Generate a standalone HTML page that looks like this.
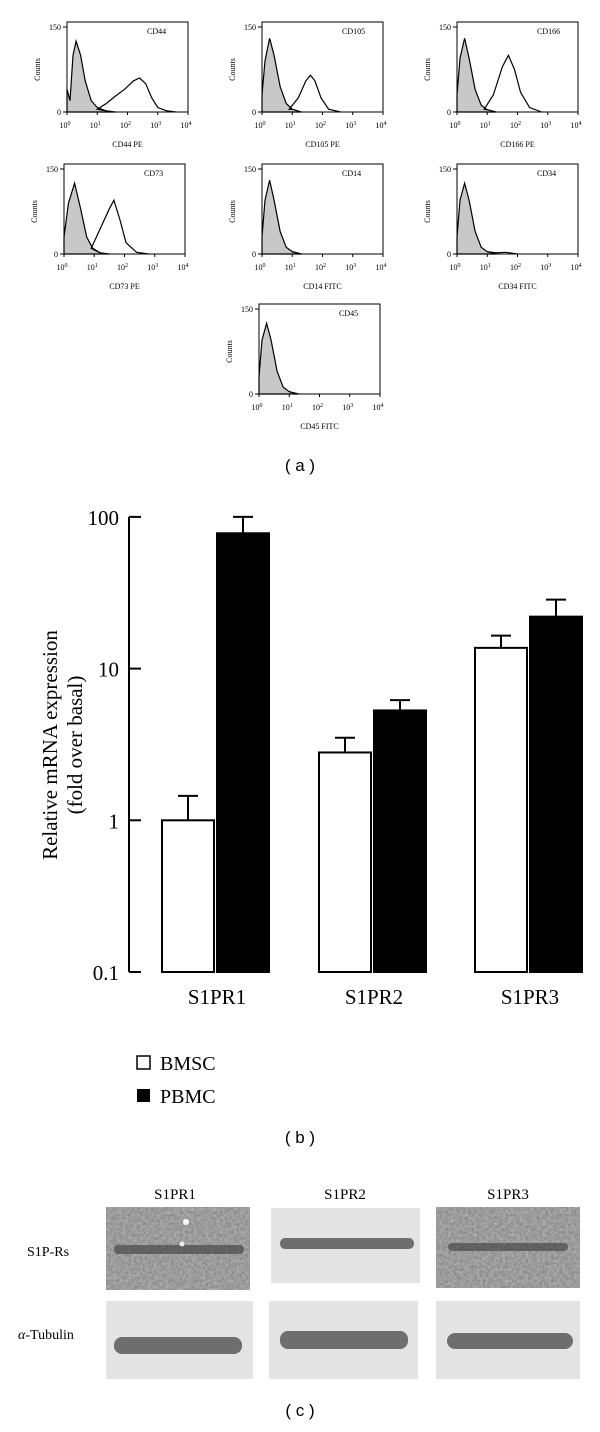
<!DOCTYPE html>
<html><head><meta charset="utf-8"><style>
html,body{margin:0;padding:0;background:#fff;}
svg{display:block;font-family:"Liberation Serif",serif;}
</style></head><body>
<svg width="600" height="1432" viewBox="0 0 600 1432">
<g id="hist"></g>
<text x="300" y="471" font-size="17" text-anchor="middle" font-family="Liberation Sans,sans-serif">( a )</text>
<g id="bars"></g>
<text x="300" y="1143" font-size="17" text-anchor="middle" font-family="Liberation Sans,sans-serif">( b )</text>
<defs>
<filter id="noise" x="0" y="0" width="100%" height="100%">
<feTurbulence type="fractalNoise" baseFrequency="0.35" numOctaves="2" seed="3"/>
<feColorMatrix type="matrix" values="0 0 0 0 0.45  0 0 0 0 0.45  0 0 0 0 0.45  0 0 0 1.6 -0.4"/>
</filter>
</defs>
<g id="blot">
<text x="175" y="1199" font-size="15" text-anchor="middle">S1PR1</text>
<text x="345" y="1199" font-size="15" text-anchor="middle">S1PR2</text>
<text x="508" y="1199" font-size="15" text-anchor="middle">S1PR3</text>
<text x="27" y="1256" font-size="14">S1P-Rs</text>
<text x="18" y="1339" font-size="14"><tspan font-style="italic">α</tspan>-Tubulin</text>
<g>
<rect x="106" y="1207" width="144" height="83" fill="#8c8c8c"/>
<rect x="106" y="1207" width="144" height="83" filter="url(#noise)"/>
<rect x="114" y="1245" width="130" height="9" fill="#3a3a3a" rx="4" opacity="0.6"/>
<circle cx="186" cy="1222" r="3" fill="#fff"/><circle cx="182" cy="1244" r="2.5" fill="#eee"/>
</g>
<g>
<rect x="271" y="1208" width="149" height="75" fill="#e4e4e4"/>
<rect x="280" y="1238" width="134" height="11" rx="5" fill="#6e6e6e"/>
</g>
<g>
<rect x="436" y="1207" width="144" height="81" fill="#8c8c8c"/>
<rect x="436" y="1207" width="144" height="81" filter="url(#noise)"/>
<rect x="448" y="1243" width="120" height="8" fill="#3a3a3a" rx="4" opacity="0.6"/>
</g>
<g>
<rect x="106" y="1301" width="147" height="78" fill="#e4e4e4"/>
<rect x="114" y="1337" width="128" height="17" rx="8" fill="#6e6e6e"/>
</g>
<g>
<rect x="269" y="1301" width="149" height="78" fill="#e4e4e4"/>
<rect x="280" y="1331" width="128" height="18" rx="8" fill="#6e6e6e"/>
</g>
<g>
<rect x="436" y="1301" width="144" height="78" fill="#e4e4e4"/>
<rect x="447" y="1333" width="126" height="16" rx="8" fill="#6e6e6e"/>
</g>
</g>
<text x="300" y="1416" font-size="17" text-anchor="middle" font-family="Liberation Sans,sans-serif">( c )</text>
</svg>
<script>
var NS="http://www.w3.org/2000/svg";
function mk(p,t,a){var e=document.createElementNS(NS,t);for(var k in a)e.setAttribute(k,a[k]);p.appendChild(e);return e;}
// ---- histogram data: [log10 intensity, counts]
var histNames=["CD44","CD105","CD166","CD73","CD14","CD34","CD45"];
var histXLabels=["CD44 PE","CD105 PE","CD166 PE","CD73 PE","CD14 FITC","CD34 FITC","CD45 FITC"];
var isoCurves=[
 [[0,40],[0.1,20],[0.2,100],[0.3,125],[0.45,100],[0.6,55],[0.8,20],[1,8],[1.3,2],[1.6,0]],
 [[0,30],[0.1,90],[0.25,130],[0.4,100],[0.6,45],[0.8,15],[1,5],[1.3,0]],
 [[0,30],[0.1,95],[0.25,130],[0.4,95],[0.6,40],[0.8,12],[1,4],[1.3,0]],
 [[0,30],[0.15,90],[0.35,125],[0.55,80],[0.75,30],[0.95,10],[1.2,2],[1.5,0]],
 [[0,30],[0.1,95],[0.25,130],[0.4,95],[0.6,40],[0.8,12],[1,4],[1.3,0]],
 [[0,30],[0.1,95],[0.25,125],[0.4,95],[0.6,40],[0.8,12],[1,4],[1.3,0]],
 [[0,30],[0.1,95],[0.25,125],[0.4,95],[0.6,40],[0.8,12],[1,4],[1.3,0]]];
var stainCurves=[
 [[1,5],[1.3,15],[1.6,28],[1.9,40],[2.2,55],[2.4,60],[2.6,50],[2.8,25],[3,8],[3.3,2],[3.6,0]],
 [[0.9,5],[1.2,25],[1.45,55],[1.6,65],[1.75,55],[1.95,25],[2.2,5],[2.6,0]],
 [[0.9,5],[1.2,30],[1.5,80],[1.7,100],[1.9,75],[2.1,35],[2.4,8],[2.8,0]],
 [[0.9,10],[1.2,45],[1.5,80],[1.65,95],[1.85,60],[2.05,20],[2.4,3],[2.8,0]],
 [[1.3,0]],[[1.3,2],[1.6,3],[2,0]],[[1.3,0]]];
var panelX=[67,262,457,64,262,457,259];
var panelY=[27,27,27,169,169,169,309];
var xtickExp=["0","1","2","3","4"];
var hg=document.getElementById("hist");
for(var i=0;i<7;i++){
 var g=mk(hg,"g",{});
 
 
 var x0=panelX[i],y0=panelY[i],w=121,h=85;
 var sx=function(v){return x0+v/4*w;}, sy=function(c){return y0+h-c/150*h;};
 var iso=isoCurves[i],d="M"+sx(0)+","+sy(0);
 iso.forEach(function(p){d+=" L"+sx(p[0]).toFixed(1)+","+sy(p[1]).toFixed(1);});
 var f=mk(g,"path",{d:d+" Z",fill:"#c8c8c8",stroke:"#000","stroke-width":"1.2"});
 
 
 var st=stainCurves[i],d2="M"+sx(iso[iso.length-2][0])+","+sy(iso[iso.length-2][1]);
 st.forEach(function(p){d2+=" L"+sx(p[0]).toFixed(1)+","+sy(p[1]).toFixed(1);});
 var s=mk(g,"path",{d:d2,fill:"none",stroke:"#000","stroke-width":"1.2"});
 
 
 mk(g,"rect",{x:x0,y:y0-5,width:w,height:h+5,fill:"none",stroke:"#000","stroke-width":"1"});
 mk(g,"line",{x1:x0-4,x2:x0,y1:y0,y2:y0,stroke:"#000"});
 mk(g,"line",{x1:x0-4,x2:x0,y1:y0+h,y2:y0+h,stroke:"#000"});
 var t=mk(g,"text",{x:x0-6,y:y0+3,"font-size":"8","text-anchor":"end"});t.textContent="150";
 t=mk(g,"text",{x:x0-6,y:y0+h+3,"font-size":"8","text-anchor":"end"});t.textContent="0";
 t=mk(g,"text",{x:x0-27,y:y0+h/2,"font-size":"8","text-anchor":"middle",transform:"rotate(-90 "+(x0-27)+" "+(y0+h/2)+")"});t.textContent="Counts";
 
 
 xtickExp.forEach(function(e,k){
  var tx=sx(k);
  mk(g,"line",{x1:tx,x2:tx,y1:y0+h,y2:y0+h+3,stroke:"#000"});
  var tt=mk(g,"text",{x:tx-2,y:y0+h+16,"font-size":"8","text-anchor":"middle"});
  tt.textContent="10";var sp=mk(tt,"tspan",{dy:"-3","font-size":"6"});sp.textContent=e;
 });
 t=mk(g,"text",{x:x0+w/2,y:y0+h+35,"font-size":"8","text-anchor":"middle"});t.textContent=histXLabels[i];
 
 
 t=mk(g,"text",{x:x0+80,y:y0+7,"font-size":"8"});t.textContent=histNames[i];
 
 
}
// ---- bar chart
var categories=["S1PR1","S1PR2","S1PR3"];
var bmscValues=[1,2.8,13.7];
var bmscErrors=[0.45,0.7,2.8];
var pbmcValues=[78,5.3,22];
var pbmcErrors=[22,0.9,6.5];
var yTickValues=[100,10,1,0.1];
var yTickLabels=["100","10","1","0.1"];
var bg=document.getElementById("bars");
var axX=129, yBot=972, dec=151.7;
function Y(v){return yBot-(Math.log10(v)+1)*dec;}
var groupX=[162,319,475];
function CX(i,s){return groupX[i]+s*55;}
var ax=mk(bg,"line",{x1:axX,x2:axX,y1:Y(100),y2:yBot,stroke:"#000","stroke-width":"2"});


yTickValues.forEach(function(v,k){
 mk(bg,"line",{x1:axX,x2:axX+12,y1:Y(v),y2:Y(v),stroke:"#000","stroke-width":"2"});
 var t=mk(bg,"text",{x:axX-10,y:Y(v)+8,"font-size":"21","text-anchor":"end"});
 t.textContent=yTickLabels[k];
 
 
});
var yl=mk(bg,"text",{x:0,y:0,"font-size":"21","text-anchor":"middle",transform:"translate(57,745) rotate(-90)"});


var s1=mk(yl,"tspan",{x:0,dy:0});s1.textContent="Relative mRNA expression";
var s2=mk(yl,"tspan",{x:0,dy:25});s2.textContent="(fold over basal)";
function bar(i,s,v,e,name){
 var x=CX(i,s),w=52;
 var ex=x+w/2;
 mk(bg,"line",{x1:ex,x2:ex,y1:Y(v+e),y2:Y(v),stroke:"#000","stroke-width":"2"});
 mk(bg,"line",{x1:ex-10,x2:ex+10,y1:Y(v+e),y2:Y(v+e),stroke:"#000","stroke-width":"2"});
 var r=mk(bg,"rect",{x:x,y:Y(v),width:w,height:yBot-Y(v),fill:s?"#000":"#fff",stroke:"#000","stroke-width":"2"});
 
 
}
categories.forEach(function(c,i){
 bar(i,0,bmscValues[i],bmscErrors[i],'bar-bmsc-'+c.toLowerCase());
 bar(i,1,pbmcValues[i],pbmcErrors[i],'bar-pbmc-'+c.toLowerCase());
 var t=mk(bg,"text",{x:CX(i,1),y:1004,"font-size":"21","text-anchor":"middle"});
 t.textContent=c;
 
 
});
var lg=mk(bg,"g",{});


mk(lg,"rect",{x:137,y:1056,width:13,height:13,fill:"#fff",stroke:"#000","stroke-width":"1.5"});
mk(lg,"rect",{x:137,y:1089,width:13,height:13,fill:"#000"});
var lt=mk(lg,"text",{x:160,y:1070,"font-size":"20"});lt.textContent="BMSC";


lt=mk(lg,"text",{x:160,y:1103,"font-size":"20"});lt.textContent="PBMC";


</script>
</body></html>
